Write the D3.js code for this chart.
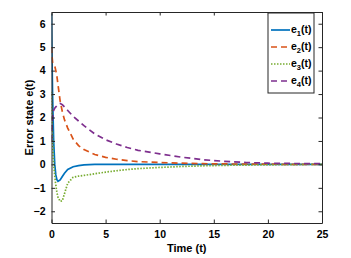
<!DOCTYPE html>
<html>
<head>
<meta charset="utf-8">
<script src="https://cdn.jsdelivr.net/npm/d3@7"></script>
<style>
  body { margin: 0; background: #fff; }
  text { font-family: "Liberation Sans", Arial, sans-serif; font-weight: bold; }
</style>
</head>
<body>
<svg id="chart" width="351" height="258"></svg>
<script>
// sample times (s)
var times = [0, 0.05, 0.1, 0.2, 0.3, 0.4, 0.5, 0.6, 0.8, 1.0, 1.2, 1.5, 2, 2.5, 3, 4, 5, 6, 7, 8, 10, 12, 14, 16, 18, 20, 22, 25];
var e1 = [6.4, 4.5, 3.0, 1.0, 0.0, -0.45, -0.65, -0.72, -0.66, -0.52, -0.38, -0.22, -0.1, -0.05, -0.02, 0, 0, 0, 0, 0, 0, 0, 0, 0, 0, 0, 0, 0];
var e2 = [5.0, 4.6, 4.35, 4.3, 4.2, 4.0, 3.75, 3.4, 2.7, 2.25, 1.9, 1.55, 1.08, 0.8, 0.63, 0.42, 0.3, 0.22, 0.16, 0.12, 0.08, 0.05, 0.03, 0.02, 0.01, 0.01, 0, 0];
var e3 = [3.1, 2.0, 1.0, 0.0, -0.5, -0.9, -1.2, -1.4, -1.58, -1.55, -1.25, -0.8, -0.55, -0.5, -0.47, -0.4, -0.33, -0.27, -0.22, -0.18, -0.13, -0.09, -0.06, -0.04, -0.03, -0.02, -0.01, 0];
var e4 = [1.0, 1.6, 2.0, 2.3, 2.4, 2.45, 2.5, 2.55, 2.6, 2.55, 2.45, 2.3, 2.05, 1.85, 1.65, 1.3, 1.05, 0.87, 0.72, 0.6, 0.45, 0.31, 0.2, 0.13, 0.08, 0.05, 0.04, 0.03];
var seriesNames = ["1", "2", "3", "4"];
var xTicks = [0, 5, 10, 15, 20, 25];
var yTicks = [-2, -1, 0, 1, 2, 3, 4, 5, 6];

var series = [
  { name: seriesNames[0], values: e1, color: "#0072BD", dash: null },
  { name: seriesNames[1], values: e2, color: "#D95319", dash: "6,4" },
  { name: seriesNames[2], values: e3, color: "#77AC30", dash: "1.5,1.5" },
  { name: seriesNames[3], values: e4, color: "#7E2F8E", dash: "6,4" }
];

var svg = d3.select("#chart");
var mLeft = 51.5, mRight = 322, mTop = 12, mBottom = 223;

var x = d3.scaleLinear().domain([0, 25]).range([mLeft, mRight]);
var y = d3.scaleLinear().domain([-2.5, 6.5]).range([mBottom, mTop]);

svg.append("clipPath").attr("id", "clip")
  .append("rect").attr("x", mLeft).attr("y", mTop).attr("width", mRight - mLeft).attr("height", mBottom - mTop);

var line = d3.line()
  .x(function(d, i) { return x(times[i]); })
  .y(function(d) { return y(d); });

var g = svg.append("g").attr("clip-path", "url(#clip)");
series.forEach(function(s) {
  g.append("path")
    .attr("d", line(s.values))
    .attr("fill", "none")
    .attr("stroke", s.color)
    .attr("stroke-width", 1.7)
    .attr("stroke-dasharray", s.dash);
});

// axes (box with inward ticks)
var axisColor = "#262626";
svg.append("g").attr("transform", "translate(0," + mBottom + ")")
  .call(d3.axisBottom(x).tickValues(xTicks).tickSizeInner(-3.5).tickSizeOuter(0).tickPadding(8));
svg.append("g").attr("transform", "translate(0," + mTop + ")")
  .call(d3.axisTop(x).tickValues(xTicks).tickSizeInner(-3.5).tickSizeOuter(0).tickFormat(""));
svg.append("g").attr("transform", "translate(" + mLeft + ",0)")
  .call(d3.axisLeft(y).tickValues(yTicks).tickSizeInner(-3.5).tickSizeOuter(0).tickPadding(6));
svg.append("g").attr("transform", "translate(" + mRight + ",0)")
  .call(d3.axisRight(y).tickValues(yTicks).tickSizeInner(-3.5).tickSizeOuter(0).tickFormat(""));

svg.selectAll(".domain, .tick line").attr("stroke", axisColor).attr("stroke-width", 1);
svg.selectAll(".tick text")
  .attr("fill", "#000")
  .style("font-size", "10.5px")
  .style("font-family", "'Liberation Sans', Arial, sans-serif")
  .style("font-weight", "bold");

// axis labels
svg.append("text")
  .attr("x", (mLeft + mRight) / 2).attr("y", 252)
  .attr("text-anchor", "middle")
  .style("font-size", "11px")
  .text("Time (t)");
svg.append("text")
  .attr("transform", "translate(33," + ((mTop + mBottom) / 2) + ") rotate(-90)")
  .attr("text-anchor", "middle")
  .style("font-size", "11px")
  .text("Error state e(t)");

// legend
var lx = 268, ly = 13, lw = 46, lh = 80;
svg.append("rect")
  .attr("x", lx).attr("y", ly).attr("width", lw).attr("height", lh)
  .attr("fill", "#fff").attr("stroke", axisColor).attr("stroke-width", 1);
var rowY = [30, 47, 64, 81];
series.forEach(function(s, i) {
  svg.append("line")
    .attr("x1", lx + 3).attr("x2", lx + 22)
    .attr("y1", rowY[i]).attr("y2", rowY[i])
    .attr("stroke", s.color).attr("stroke-width", 1.7)
    .attr("stroke-dasharray", s.dash);
  var t = svg.append("text")
    .attr("x", lx + 23).attr("y", rowY[i] + 3)
    .style("font-size", "10.5px");
  t.append("tspan").text("e");
  t.append("tspan").attr("dy", 3).style("font-size", "7.5px").text(s.name);
  t.append("tspan").attr("dy", -3).text("(t)");
});
</script>
</body>
</html>
